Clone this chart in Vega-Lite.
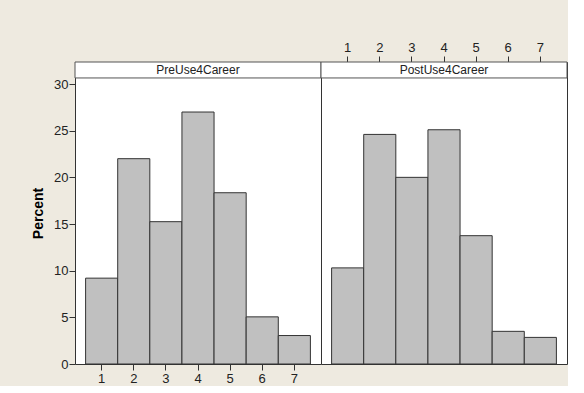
{
  "$schema": "https://vega.github.io/schema/vega-lite/v6.json",
  "background": "#eeeae0",
  "padding": {"left": 31, "top": 40, "right": 0, "bottom": 0},
  "config": {
    "font": "Liberation Sans",
    "view": {"stroke": "#333", "strokeWidth": 1, "fill": "white"},
    "axis": {
      "grid": false,
      "domain": false,
      "labelFont": "Liberation Sans",
      "labelFontSize": 13,
      "labelColor": "#222",
      "tickColor": "#333",
      "tickSize": 6,
      "labelPadding": 2
    }
  },
  "data": {
    "values": [
      {"panel": "PreUse4Career", "value": 1, "percent": 9.2},
      {"panel": "PreUse4Career", "value": 2, "percent": 22.0},
      {"panel": "PreUse4Career", "value": 3, "percent": 15.25},
      {"panel": "PreUse4Career", "value": 4, "percent": 27.0},
      {"panel": "PreUse4Career", "value": 5, "percent": 18.35},
      {"panel": "PreUse4Career", "value": 6, "percent": 5.05},
      {"panel": "PreUse4Career", "value": 7, "percent": 3.05},
      {"panel": "PostUse4Career", "value": 1, "percent": 10.3},
      {"panel": "PostUse4Career", "value": 2, "percent": 24.6},
      {"panel": "PostUse4Career", "value": 3, "percent": 20.0},
      {"panel": "PostUse4Career", "value": 4, "percent": 25.1},
      {"panel": "PostUse4Career", "value": 5, "percent": 13.75},
      {"panel": "PostUse4Career", "value": 6, "percent": 3.5},
      {"panel": "PostUse4Career", "value": 7, "percent": 2.85}
    ]
  },
  "spacing": 0,
  "bounds": "flush",
  "hconcat": [
    {
      "width": 246,
      "height": 302,
      "layer": [
        {
          "transform": [{"filter": "datum.panel === 'PreUse4Career'"}],
          "mark": {"type": "bar", "fill": "#c0c0c0", "stroke": "#333", "strokeWidth": 1},
          "encoding": {
            "x": {
              "field": "value", "type": "ordinal",
              "scale": {"paddingInner": 0, "paddingOuter": 0.33},
              "axis": {"orient": "bottom", "title": null, "labelAngle": 0}
            },
            "y": {
              "field": "percent", "type": "quantitative",
              "scale": {"domain": [0, 32.36], "nice": false, "zero": true},
              "axis": {
                "values": [0, 5, 10, 15, 20, 25, 30],
                "title": "Percent",
                "titleFontSize": 14,
                "titleFontWeight": "bold",
                "titleColor": "#000",
                "titlePadding": 8,
                "labelPadding": 1
              }
            }
          }
        },
        {
          "transform": [{"filter": "datum.panel === 'PreUse4Career' && datum.value === 1"}],
          "mark": {"type": "rect", "fill": "white", "stroke": "#555", "strokeWidth": 1},
          "encoding": {
            "y": {"datum": 30.65, "type": "quantitative"},
            "y2": {"datum": 32.36}
          }
        },
        {
          "transform": [{"filter": "datum.panel === 'PreUse4Career' && datum.value === 1"}],
          "mark": {"type": "text", "fontSize": 12, "fontWeight": "normal", "fill": "#222", "baseline": "middle", "align": "center"},
          "encoding": {
            "y": {"datum": 31.48, "type": "quantitative"},
            "text": {"field": "panel"}
          }
        }
      ]
    },
    {
      "width": 246,
      "height": 302,
      "layer": [
        {
          "transform": [{"filter": "datum.panel === 'PostUse4Career'"}],
          "mark": {"type": "bar", "fill": "#c0c0c0", "stroke": "#333", "strokeWidth": 1},
          "encoding": {
            "x": {
              "field": "value", "type": "ordinal",
              "scale": {"paddingInner": 0, "paddingOuter": 0.33},
              "axis": {"orient": "top", "title": null, "labelAngle": 0}
            },
            "y": {
              "field": "percent", "type": "quantitative",
              "scale": {"domain": [0, 32.36], "nice": false, "zero": true},
              "axis": null
            }
          }
        },
        {
          "transform": [{"filter": "datum.panel === 'PostUse4Career' && datum.value === 1"}],
          "mark": {"type": "rect", "fill": "white", "stroke": "#555", "strokeWidth": 1},
          "encoding": {
            "y": {"datum": 30.65, "type": "quantitative"},
            "y2": {"datum": 32.36}
          }
        },
        {
          "transform": [{"filter": "datum.panel === 'PostUse4Career' && datum.value === 1"}],
          "mark": {"type": "text", "fontSize": 12, "fontWeight": "normal", "fill": "#222", "baseline": "middle", "align": "center"},
          "encoding": {
            "y": {"datum": 31.48, "type": "quantitative"},
            "text": {"field": "panel"}
          }
        }
      ]
    }
  ]
}
